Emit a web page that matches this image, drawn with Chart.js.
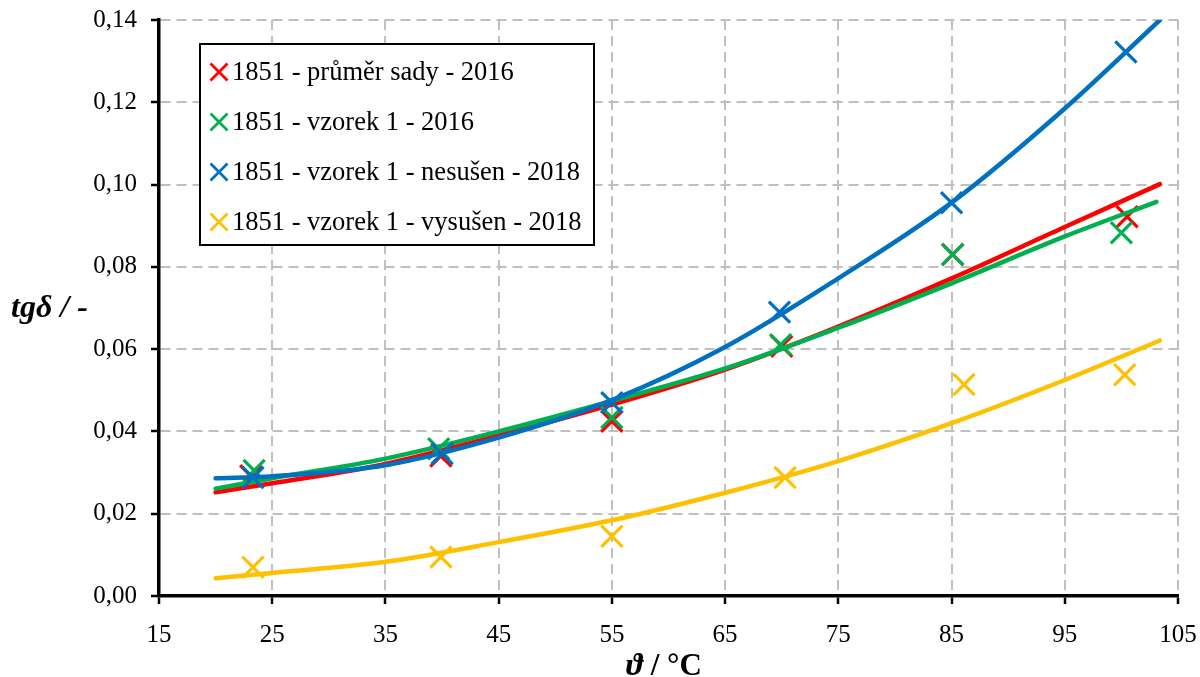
<!DOCTYPE html>
<html>
<head>
<meta charset="utf-8">
<script src="https://cdn.jsdelivr.net/npm/chart.js@4.4.1/dist/chart.umd.min.js"></script>
<style>
  html, body { margin: 0; padding: 0; background: #fff; }
  #wrap { width: 1200px; height: 677px; }
</style>
</head>
<body>
<div id="wrap"><canvas id="chartTgd" width="1200" height="677"></canvas></div>
<script>
// series names + excel colours
const seriesNames = [
  '1851 - průměr sady - 2016',
  '1851 - vzorek 1 - 2016',
  '1851 - vzorek 1 - nesušen - 2018',
  '1851 - vzorek 1 - vysušen - 2018'
];
const seriesColors = ['#FF0000', '#00B050', '#0070C0', '#FFC000'];

// measured points (teplota / tg delta)
const redX = [23.1, 39.9, 55.0, 70.0, 85.1, 100.5];
const redY = [0.0292, 0.0340, 0.0425, 0.0607, 0.0830, 0.0922];
const greenX = [23.4, 39.7, 55.0, 69.9, 85.1, 100.0];
const greenY = [0.0305, 0.0358, 0.0434, 0.0611, 0.0830, 0.0883];
const blueX = [23.3, 40.0, 55.0, 69.8, 85.0, 100.4];
const blueY = [0.0288, 0.0346, 0.0470, 0.0690, 0.0956, 0.1322];
const yellowX = [23.3, 39.9, 55.0, 70.3, 86.1, 100.3];
const yellowY = [0.0070, 0.0095, 0.0145, 0.0288, 0.0514, 0.0538];

// trend curves
const redFitX = [20, 25, 35, 45, 55, 65, 75, 85, 95, 103.4];
const redFitY = [0.0252, 0.0274, 0.0321, 0.0390, 0.0465, 0.0550, 0.0655, 0.0772, 0.0897, 0.1001];
const greenFitX = [20, 25, 35, 45, 55, 65, 75, 85, 95, 103.1];
const greenFitY = [0.0261, 0.0286, 0.0334, 0.0400, 0.0474, 0.0553, 0.0652, 0.0760, 0.0874, 0.0958];
const blueFitX = [20, 25, 35, 45, 55, 65, 75, 85, 95, 103.4];
const blueFitY = [0.0286, 0.0291, 0.0318, 0.0385, 0.0476, 0.0605, 0.0772, 0.0956, 0.1185, 0.1400];
const yellowFitX = [20, 25, 35, 45, 55, 65, 75, 85, 95, 103.4];
const yellowFitY = [0.0043, 0.0056, 0.0083, 0.0131, 0.0184, 0.0251, 0.0328, 0.0420, 0.0525, 0.0621];

const FONT = '"Liberation Serif", "Times New Roman", serif';

function toXY(xs, ys) {
  return xs.map((x, i) => ({ x: x, y: ys[i] }));
}

function pointSet(xs, ys, color, order) {
  return {
    data: toXY(xs, ys),
    showLine: false,
    pointStyle: 'crossRot',
    pointRadius: 15,
    pointHoverRadius: 15,
    pointBorderWidth: 3.2,
    pointBorderColor: color,
    pointBackgroundColor: color,
    order: order
  };
}

function curveSet(xs, ys, color, order) {
  return {
    data: toXY(xs, ys),
    showLine: true,
    borderColor: color,
    borderWidth: 4.5,
    pointRadius: 0,
    pointHoverRadius: 0,
    cubicInterpolationMode: 'monotone',
    borderCapStyle: 'round',
    fill: false,
    order: order
  };
}

// legend inside the plot + horizontal axis titles
const overlayPlugin = {
  id: 'overlay',
  afterDraw: function(chart) {
    const ctx = chart.ctx;
    ctx.save();

    ctx.fillStyle = '#fff';
    ctx.fillRect(200, 44, 394, 201);
    ctx.strokeStyle = '#000';
    ctx.lineWidth = 2;
    ctx.strokeRect(200, 44, 394, 201);

    seriesNames.forEach((name, i) => {
      const cy = 72 + i * 50;
      const cx = 219;
      const d = 8.5;
      ctx.strokeStyle = seriesColors[i];
      ctx.lineWidth = 2.8;
      ctx.beginPath();
      ctx.moveTo(cx - d, cy - d); ctx.lineTo(cx + d, cy + d);
      ctx.moveTo(cx + d, cy - d); ctx.lineTo(cx - d, cy + d);
      ctx.stroke();
      ctx.fillStyle = '#000';
      ctx.font = '26.5px ' + FONT;
      ctx.textAlign = 'left';
      ctx.textBaseline = 'middle';
      ctx.fillText(name, 232, cy + 1);
    });

    // y title (horizontal)
    ctx.fillStyle = '#000';
    ctx.textBaseline = 'alphabetic';
    ctx.textAlign = 'left';
    ctx.font = 'italic bold 32px ' + FONT;
    ctx.fillText('tgδ / -', 11, 317);

    // x title
    ctx.font = 'italic bold 32px ' + FONT;
    const sym = 'ϑ';
    const w1 = ctx.measureText(sym).width;
    ctx.fillText(sym, 626, 675);
    ctx.font = 'bold 31px ' + FONT;
    ctx.fillText(' / °C', 626 + w1, 675);

    ctx.restore();
  }
};

const ctx = document.getElementById('chartTgd');
new Chart(ctx, {
  type: 'scatter',
  data: {
    datasets: [
      curveSet(redFitX, redFitY, seriesColors[0], 8),
      pointSet(redX, redY, seriesColors[0], 7),
      curveSet(greenFitX, greenFitY, seriesColors[1], 6),
      pointSet(greenX, greenY, seriesColors[1], 5),
      curveSet(blueFitX, blueFitY, seriesColors[2], 4),
      pointSet(blueX, blueY, seriesColors[2], 3),
      curveSet(yellowFitX, yellowFitY, seriesColors[3], 2),
      pointSet(yellowX, yellowY, seriesColors[3], 1)
    ]
  },
  options: {
    responsive: false,
    animation: false,
    layout: { padding: { top: 20, right: 22, left: 0, bottom: 0 } },
    plugins: {
      legend: { display: false },
      tooltip: { enabled: false }
    },
    scales: {
      x: {
        type: 'linear',
        min: 15,
        max: 105,
        afterFit: function(scale) {
          scale.height = 81;
          scale.paddingLeft = 0;
          scale.paddingRight = 0;
        },
        ticks: {
          stepSize: 10,
          color: '#000',
          padding: 16,
          maxRotation: 0,
          font: { family: FONT, size: 25 }
        },
        grid: {
          color: '#bfbfbf',
          lineWidth: 2,
          tickColor: '#000',
          tickLength: 8,
          tickWidth: 2.5,
          tickBorderDash: []
        },
        border: { display: true, color: '#000', width: 3.5, dash: [10, 6] }
      },
      y: {
        min: 0,
        max: 0.14,
        afterFit: function(scale) {
          scale.width = 159;
          scale.paddingTop = 0;
          scale.paddingBottom = 0;
        },
        ticks: {
          stepSize: 0.02,
          color: '#000',
          padding: 14,
          font: { family: FONT, size: 25 },
          callback: v => v.toFixed(2).replace('.', ',')
        },
        grid: {
          color: '#bfbfbf',
          lineWidth: 2,
          tickColor: '#000',
          tickLength: 8,
          tickWidth: 2.5,
          tickBorderDash: []
        },
        border: { display: true, color: '#000', width: 3.5, dash: [10, 6] }
      }
    }
  },
  plugins: [overlayPlugin]
});
</script>
</body>
</html>
